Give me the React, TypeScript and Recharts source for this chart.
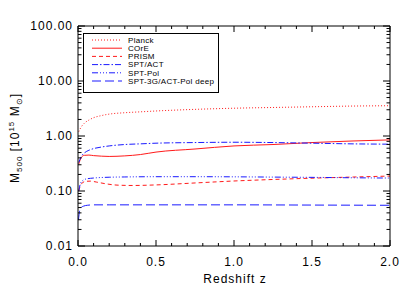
import React from 'react';
import { LineChart, Line, XAxis, YAxis } from 'recharts';

// redshift samples and M500 limits (10^15 Msun) per survey
const planckZ = [0.005, 0.02, 0.04, 0.07, 0.1, 0.15, 0.2, 0.3, 0.4, 0.5, 0.75, 1.0, 1.25, 1.5, 1.75, 2.0];
const planckM = [1.2, 1.45, 1.7, 1.95, 2.15, 2.35, 2.5, 2.65, 2.75, 2.85, 3.05, 3.2, 3.3, 3.4, 3.5, 3.55];

const coreZ = [0.005, 0.02, 0.04, 0.07, 0.1, 0.15, 0.2, 0.3, 0.4, 0.5, 0.75, 1.0, 1.25, 1.5, 1.75, 2.0];
const coreM = [0.31, 0.4, 0.445, 0.45, 0.44, 0.43, 0.425, 0.435, 0.46, 0.51, 0.58, 0.66, 0.7, 0.76, 0.81, 0.85];

const prismZ = [0.005, 0.015, 0.03, 0.05, 0.08, 0.12, 0.18, 0.25, 0.35, 0.5, 0.75, 1.0, 1.25, 1.5, 1.75, 2.0];
const prismM = [0.1, 0.125, 0.142, 0.15, 0.151, 0.145, 0.135, 0.128, 0.126, 0.129, 0.14, 0.152, 0.162, 0.171, 0.179, 0.187];

const sptActZ = [0.005, 0.02, 0.04, 0.07, 0.1, 0.15, 0.2, 0.3, 0.4, 0.5, 0.75, 1.0, 1.25, 1.5, 1.75, 2.0];
const sptActM = [0.33, 0.42, 0.49, 0.55, 0.59, 0.63, 0.66, 0.7, 0.72, 0.74, 0.76, 0.77, 0.76, 0.74, 0.72, 0.71];

const sptPolZ = [0.005, 0.015, 0.03, 0.05, 0.08, 0.12, 0.2, 0.3, 0.5, 0.75, 1.0, 1.25, 1.5, 1.75, 2.0];
const sptPolM = [0.1, 0.135, 0.155, 0.165, 0.17, 0.174, 0.178, 0.18, 0.182, 0.182, 0.181, 0.179, 0.177, 0.174, 0.172];

const spt3gZ = [0.003, 0.01, 0.02, 0.035, 0.06, 0.1, 0.2, 0.5, 1.0, 1.5, 2.0];
const spt3gM = [0.03, 0.043, 0.05, 0.053, 0.055, 0.056, 0.056, 0.056, 0.056, 0.0555, 0.055];

const xTicks = [0, 0.1, 0.2, 0.3, 0.4, 0.5, 0.6, 0.7, 0.8, 0.9, 1.0, 1.1, 1.2, 1.3, 1.4, 1.5, 1.6, 1.7, 1.8, 1.9, 2.0];
const yTicks = [
  0.01, 0.02, 0.03, 0.04, 0.05, 0.06, 0.07, 0.08, 0.09,
  0.1, 0.2, 0.3, 0.4, 0.5, 0.6, 0.7, 0.8, 0.9,
  1, 2, 3, 4, 5, 6, 7, 8, 9,
  10, 20, 30, 40, 50, 60, 70, 80, 90,
  100,
];

const toData = (zs: number[], ms: number[]) => zs.map((z, i) => ({ z, m: ms[i] }));

const RED = '#ff1a1a';
const BLUE = '#1a1aff';

// red series sit on the bottom/left axes, blue ones on the top/right twins (same scales)
const series = [
  { name: 'Planck', data: toData(planckZ, planckM), color: RED, dash: '1 2', xId: 0, yId: 0 },
  { name: 'COrE', data: toData(coreZ, coreM), color: RED, dash: undefined, xId: 0, yId: 0 },
  { name: 'PRISM', data: toData(prismZ, prismM), color: RED, dash: '4 3', xId: 0, yId: 0 },
  { name: 'SPT/ACT', data: toData(sptActZ, sptActM), color: BLUE, dash: '6 2 1.5 2', xId: 'top', yId: 'right' },
  { name: 'SPT-Pol', data: toData(sptPolZ, sptPolM), color: BLUE, dash: '6 2 1 2 1 2 1 2', xId: 'top', yId: 'right' },
  { name: 'SPT-3G/ACT-Pol deep', data: toData(spt3gZ, spt3gM), color: BLUE, dash: '9 4', xId: 'top', yId: 'right' },
];

const font = '"Liberation Sans", Arial, sans-serif';
const isMajorX = (v: number) => Math.abs(v * 2 - Math.round(v * 2)) < 1e-6;
const isMajorY = (v: number) => Math.abs(Math.log10(v) - Math.round(Math.log10(v))) < 1e-6;

const BottomTick = (p: any) => {
  const major = isMajorX(p.payload.value);
  return (
    <g>
      <line x1={p.x} x2={p.x} y1={p.y} y2={p.y - (major ? 6 : 3)} stroke="#000" strokeWidth={1} />
      {major && (
        <text x={p.x} y={p.y + 20} textAnchor="middle" fontSize={12} letterSpacing={1} fontFamily={font} fill="#000">
          {p.payload.value.toFixed(1)}
        </text>
      )}
    </g>
  );
};

const TopTick = (p: any) => {
  const major = isMajorX(p.payload.value);
  return <line x1={p.x} x2={p.x} y1={p.y} y2={p.y + (major ? 6 : 3)} stroke="#000" strokeWidth={1} />;
};

const LeftTick = (p: any) => {
  const major = isMajorY(p.payload.value);
  return (
    <g>
      <line x1={p.x} x2={p.x + (major ? 7 : 3.5)} y1={p.y} y2={p.y} stroke="#000" strokeWidth={1} />
      {major && (
        <text x={p.x - 5} y={p.y} dy="0.36em" textAnchor="end" fontSize={12} letterSpacing={1} fontFamily={font} fill="#000">
          {p.payload.value.toFixed(2)}
        </text>
      )}
    </g>
  );
};

const RightTick = (p: any) => {
  const major = isMajorY(p.payload.value);
  return <line x1={p.x} x2={p.x - (major ? 7 : 3.5)} y1={p.y} y2={p.y} stroke="#000" strokeWidth={1} />;
};

function AxisTitles() {
  return (
    <svg width={415} height={297} style={{ position: 'absolute', left: 0, top: 0, pointerEvents: 'none' }}>
      <text
        transform="translate(19,138) rotate(-90)"
        textAnchor="middle"
        fontSize={12}
        letterSpacing={1}
        fontFamily={font}
        fill="#000"
        style={{ whiteSpace: 'pre' }}
      >
        <tspan>M</tspan>
        <tspan fontSize={8} dy={3}>500</tspan>
        <tspan dy={-3}>{' [10'}</tspan>
        <tspan fontSize={8} dy={-5}>15</tspan>
        <tspan dy={5}>{' M'}</tspan>
        <tspan fontSize={8} dy={3}>⊙</tspan>
        <tspan dy={-3}>]</tspan>
      </text>
      <text x={235} y={283} textAnchor="middle" fontSize={12} letterSpacing={1} fontFamily={font} fill="#000">
        Redshift z
      </text>
    </svg>
  );
}

function LegendBox() {
  return (
    <svg width={137} height={61} style={{ position: 'absolute', left: 83, top: 33 }}>
      <rect x={0.5} y={0.5} width={135} height={59} fill="#fff" stroke="#000" />
      {series.map((s, i) => {
        const cy = 7 + i * 8.2;
        return (
          <g key={s.name}>
            <line x1={9} x2={39} y1={cy} y2={cy} stroke={s.color} strokeDasharray={s.dash} />
            <text x={45} y={cy} dy="0.36em" fontSize={8} letterSpacing={0.3} fontFamily={font} fill="#000">
              {s.name}
            </text>
          </g>
        );
      })}
    </svg>
  );
}

export default function App() {
  return (
    <div style={{ position: 'absolute', left: 0, top: 0, width: 415, height: 297, background: '#fff' }}>
      <LineChart width={415} height={297} margin={{ top: 25, right: 24, bottom: 0, left: 0 }}>
        <XAxis
          dataKey="z"
          type="number"
          domain={[0, 2]}
          ticks={xTicks}
          interval={0}
          height={51}
          tickSize={0}
          tickMargin={0}
          tickLine={false}
          tick={BottomTick}
          stroke="#000"
          axisLine={{ stroke: '#000' }}
        />
        <XAxis
          xAxisId="top"
          orientation="top"
          dataKey="z"
          type="number"
          domain={[0, 2]}
          ticks={xTicks}
          interval={0}
          height={1}
          tickSize={0}
          tickMargin={0}
          tickLine={false}
          tick={TopTick}
          stroke="#000"
          axisLine={{ stroke: '#000' }}
        />
        <YAxis
          type="number"
          scale="log"
          domain={[0.01, 100]}
          ticks={yTicks}
          interval={0}
          width={78}
          tickSize={0}
          tickMargin={0}
          tickLine={false}
          tick={LeftTick}
          stroke="#000"
          axisLine={{ stroke: '#000' }}
        />
        <YAxis
          yAxisId="right"
          orientation="right"
          type="number"
          scale="log"
          domain={[0.01, 100]}
          ticks={yTicks}
          interval={0}
          width={1}
          tickSize={0}
          tickMargin={0}
          tickLine={false}
          tick={RightTick}
          stroke="#000"
          axisLine={{ stroke: '#000' }}
        />
        {series.map((s) => (
          <Line
            key={s.name}
            xAxisId={s.xId}
            yAxisId={s.yId}
            data={s.data}
            dataKey="m"
            type="monotone"
            stroke={s.color}
            strokeWidth={1}
            strokeDasharray={s.dash}
            dot={false}
            activeDot={false}
            isAnimationActive={false}
          />
        ))}
      </LineChart>
      <AxisTitles />
      <LegendBox />
    </div>
  );
}
